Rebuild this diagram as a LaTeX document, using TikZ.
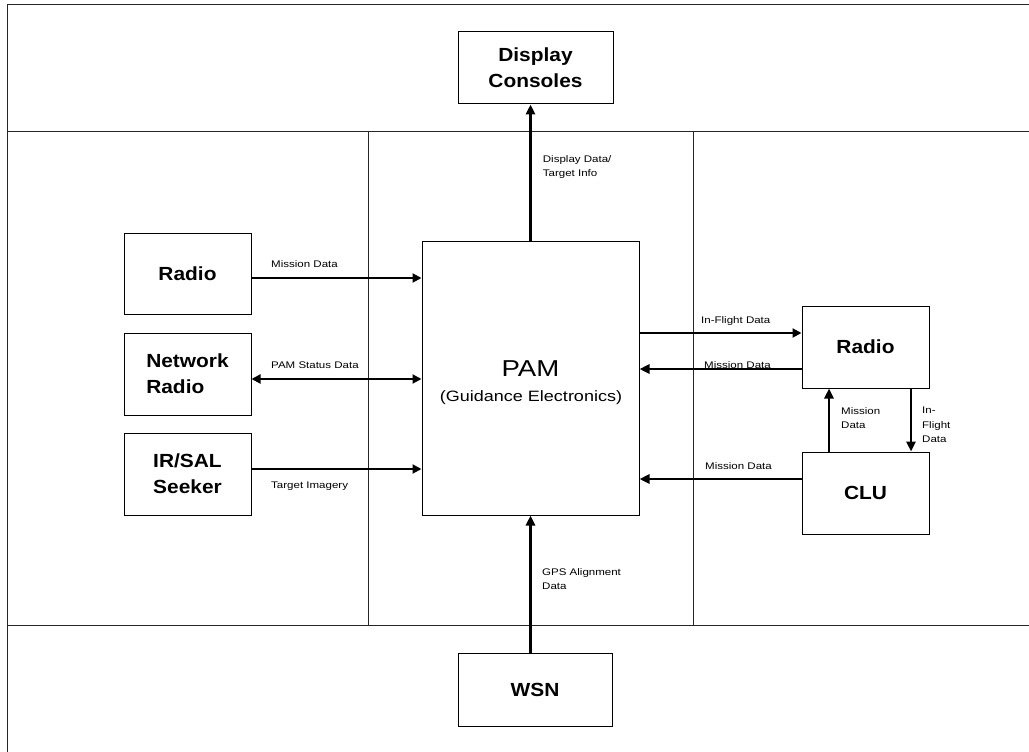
\documentclass[tikz,border=0pt]{standalone}
\usepackage{fontspec}
\setmainfont{Liberation Sans}[FakeStretch=1.2]
\newfontfamily\boxfam{Liberation Sans}[FakeStretch=1.1]
\usetikzlibrary{arrows.meta}
\tikzset{
  box/.style={draw=black, line width=1pt, fill=white, inner sep=0pt,
    font=\boxfam\fontsize{19}{26}\selectfont\bfseries, align=center},
  lbl/.style={inner sep=0pt, anchor=west, align=left,
    font=\fontsize{9.6}{14.5}\selectfont},
  divider/.style={draw=black!85, line width=0.9pt},
  thinarr/.style={line width=2pt, -{Triangle[length=9pt,width=9pt]}},
  thinarrb/.style={line width=2pt, {Triangle[length=9pt,width=9pt]}-{Triangle[length=9pt,width=9pt]}},
  thickarr/.style={line width=2.8pt, -{Triangle[length=10pt,width=9pt]}}
}
\begin{document}
\begin{tikzpicture}[x=1pt,y=-1pt]
\useasboundingbox (0,0) rectangle (1029,752);
\fill[white] (0,0) rectangle (1029,752);
% frame and dividers
\coordinate (tl) at (7,4);
\coordinate (tr) at (1029,4);
\coordinate (bl) at (7,752);
\draw[divider] (tr) -- (tl) -- (bl);
\draw[divider] (7,131) -- (1029,131);
\draw[divider] (7,625) -- (1029,625);
\draw[divider] (368.5,131) -- (368.5,625);
\draw[divider] (693,131) -- (693,625);
% boxes
\node[box, minimum width=155pt, minimum height=72pt] (disp) at (535.5,68) {Display\\Consoles};
\node[box, minimum width=217pt, minimum height=274pt] (pam) at (530.5,378) {};
\node[inner sep=0pt, font=\fontsize{23}{26}\selectfont] (pamA) at (530.5,369) {PAM};
\node[inner sep=0pt, font=\fontsize{15}{18}\selectfont] (pamB) at (531,398) {(Guidance Electronics)};
\node[box, minimum width=127pt, minimum height=81pt] (radioL) at (187.5,273.5) {Radio};
\node[box, minimum width=127pt, minimum height=82pt, align=left] (netR) at (187.5,374) {Network\\Radio};
\node[box, minimum width=127pt, minimum height=82pt, align=left] (seeker) at (187.5,474) {IR/SAL\\Seeker};
\node[box, minimum width=127pt, minimum height=82pt] (radioR) at (865.5,347) {Radio};
\node[box, minimum width=127pt, minimum height=82pt] (clu) at (865.5,493) {CLU};
\node[box, minimum width=154pt, minimum height=73pt] (wsn) at (535,689.5) {WSN};
% connectors
\draw[thickarr] (pam.north) -- (pam.north |- disp.south);
\draw[thickarr] (pam.south |- wsn.north) -- (pam.south);
\draw[thinarr] ([yshift=-4.5pt]radioL.east) -- ([yshift=-4.5pt]radioL.east -| pam.west);
\draw[thinarrb] ([yshift=-5pt]netR.east) -- ([yshift=-5pt]netR.east -| pam.west);
\draw[thinarr] ([yshift=5pt]seeker.east) -- ([yshift=5pt]seeker.east -| pam.west);
\draw[thinarr] ([yshift=14pt]radioR.west -| pam.east) -- ([yshift=14pt]radioR.west);
\draw[thickarr] ([yshift=-22pt]radioR.west) -- ([yshift=-22pt]radioR.west -| pam.east);
\draw[thickarr] ([yshift=14pt]clu.west) -- ([yshift=14pt]clu.west -| pam.east);
\draw[thickarr] ([xshift=-36.5pt]clu.north) -- ([xshift=-36.5pt]radioR.south);
\draw[thickarr] ([xshift=45.5pt]radioR.south) -- ([xshift=45.5pt]clu.north);
% labels
\node[lbl] (l1) at (542.7,167) {Display Data/\\Target Info};
\node[lbl] (l2) at (271,264) {Mission Data};
\node[lbl] (l3) at (271,365) {PAM Status Data};
\node[lbl] (l4) at (271,486) {Target Imagery};
\node[lbl] (l5) at (701,321) {In-Flight Data};
\node[lbl] (l6) at (704,365) {Mission Data};
\node[lbl] (l7) at (705,466) {Mission Data};
\node[lbl] (l8) at (841,418) {Mission\\Data};
\node[lbl] (l9) at (922,425) {In-\\Flight\\Data};
\node[lbl] (l10) at (542,579) {GPS Alignment\\Data};
\end{tikzpicture}
\end{document}
